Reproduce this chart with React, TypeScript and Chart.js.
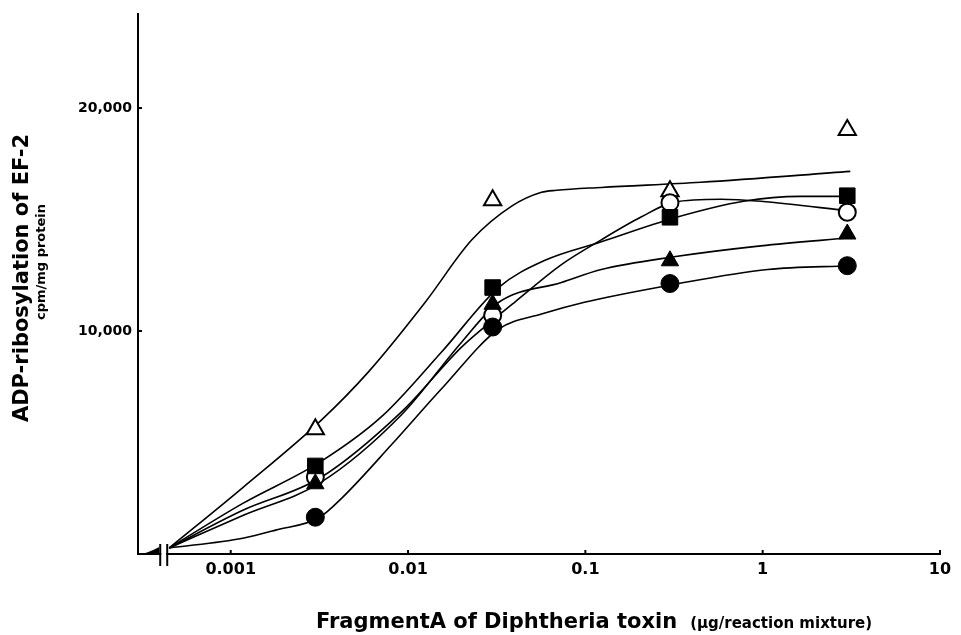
import React, { useEffect, useRef } from "react";
import { Chart, registerables } from "chart.js";

Chart.register(...registerables);

// ---- measured points (dose in µg/reaction mixture, activity in cpm/mg protein)
const DOSES = [0.003, 0.03, 0.3, 3];
const OPEN_TRIANGLE = [5600, 15870, 16270, 19020];
const FILLED_SQUARE = [3950, 11950, 15100, 16070];
const OPEN_CIRCLE = [3450, 10700, 15750, 15330];
const FILLED_TRIANGLE = [3150, 11200, 13150, 14350];
const FILLED_CIRCLE = [1650, 10180, 12130, 12930];

// ---- hand-drawn fitted curves (first point = zero dose, drawn after the axis break)
const ZERO_DOSE = 0.00045;
const CURVE_OPEN_TRIANGLE_X = [ZERO_DOSE, 0.00117, 0.0032, 0.006, 0.0125, 0.0229, 0.0384, 0.0566, 0.0687, 0.123, 0.448, 3.12];
const CURVE_OPEN_TRIANGLE_Y = [270, 2980, 5960, 8180, 11290, 14090, 15600, 16220, 16310, 16440, 16670, 17160];
const CURVE_FILLED_SQUARE_X = [ZERO_DOSE, 0.00117, 0.0032, 0.00714, 0.0155, 0.0325, 0.0588, 0.123, 0.316, 0.78, 1.63, 3.12];
const CURVE_FILLED_SQUARE_Y = [270, 2270, 4130, 6180, 9070, 11960, 13160, 14000, 15070, 15820, 16040, 16040];
const CURVE_OPEN_CIRCLE_X = [ZERO_DOSE, 0.00117, 0.0032, 0.00925, 0.0201, 0.0325, 0.0399, 0.0733, 0.123, 0.206, 0.316, 0.58, 0.975, 3.12];
const CURVE_OPEN_CIRCLE_Y = [270, 1960, 3420, 6400, 9290, 10710, 11290, 12980, 14090, 15110, 15780, 15910, 15820, 15380];
const CURVE_FILLED_TRIANGLE_X = [ZERO_DOSE, 0.00117, 0.0032, 0.00925, 0.0201, 0.0325, 0.0733, 0.123, 0.316, 0.975, 3.12];
const CURVE_FILLED_TRIANGLE_Y = [270, 1730, 3200, 6270, 9510, 11290, 12180, 12760, 13330, 13820, 14180];
const CURVE_FILLED_CIRCLE_X = [ZERO_DOSE, 0.00117, 0.00179, 0.00316, 0.00426, 0.00813, 0.0155, 0.0325, 0.0566, 0.0988, 0.316, 1.067, 3.12];
const CURVE_FILLED_CIRCLE_Y = [270, 710, 1070, 1640, 2530, 4930, 7420, 10090, 10760, 11290, 12090, 12760, 12930];

// ---- axes
const X_TICKS = [0.001, 0.01, 0.1, 1, 10];
const X_TICK_LABELS = ["0.001", "0.01", "0.1", "1", "10"];
const Y_TICKS = [10000, 20000];
const Y_TICK_LABELS = ["10,000", "20,000"];
const X_MIN = 0.000312;
const X_MAX = 10;
const Y_MAX = 24200;

const Y_TITLE = "ADP-ribosylation of EF-2";
const Y_SUBTITLE = "cpm/mg protein";
const X_TITLE = "FragmentA of Diphtheria toxin";
const X_SUBTITLE = "(µg/reaction mixture)";

const FONT = "'DejaVu Sans', 'Liberation Sans', Arial, sans-serif";

const pts = (xs: number[], ys: number[]) => xs.map((x, i) => ({ x, y: ys[i] }));

const markerSet = (data: number[], style: string, radius: number, open: boolean) => ({
  type: "line" as const,
  data: pts(DOSES, data),
  showLine: false,
  pointStyle: style,
  pointRadius: radius,
  pointHoverRadius: radius,
  pointBackgroundColor: open ? "#ffffff" : "#000000",
  pointBorderColor: "#000000",
  pointBorderWidth: open ? 2 : 1,
  order: 0,
});

const curveSet = (xs: number[], ys: number[]) => ({
  type: "line" as const,
  data: pts(xs, ys),
  borderColor: "#000000",
  borderWidth: 1.6,
  pointRadius: 0,
  fill: false,
  cubicInterpolationMode: "monotone" as const,
  order: 1,
});

const decorPlugin = {
  id: "decor",
  afterDraw(chart: any) {
    const { ctx, chartArea, scales } = chart;
    const xs = scales.x;
    const ys = scales.y;
    const left = chartArea.left;
    const bottom = chartArea.bottom;
    ctx.save();
    ctx.strokeStyle = "#000";
    ctx.fillStyle = "#000";
    ctx.lineWidth = 2;

    // inward tick marks
    Y_TICKS.forEach((v) => {
      const y = ys.getPixelForValue(v);
      ctx.beginPath();
      ctx.moveTo(left, y);
      ctx.lineTo(left + 4, y);
      ctx.stroke();
    });
    X_TICKS.forEach((v) => {
      const x = xs.getPixelForValue(v);
      ctx.beginPath();
      ctx.moveTo(x, bottom);
      ctx.lineTo(x, bottom - 4);
      ctx.stroke();
    });

    // axis break before the zero-dose position
    const zx = xs.getPixelForValue(ZERO_DOSE);
    const b1 = zx - 9;
    const b2 = zx - 2;
    ctx.fillStyle = "#fff";
    ctx.fillRect(b1 + 1, bottom - 2, b2 - b1 - 2, 4);
    ctx.fillStyle = "#000";
    ctx.lineWidth = 2;
    [b1, b2].forEach((bx) => {
      ctx.beginPath();
      ctx.moveTo(bx, bottom - 10);
      ctx.lineTo(bx, bottom + 12);
      ctx.stroke();
    });
    // small wedge between axis origin and the break
    ctx.beginPath();
    ctx.moveTo(left, bottom + 1);
    ctx.quadraticCurveTo(left + 10, bottom - 1, b1 - 1, bottom - 7);
    ctx.lineTo(b1 - 1, bottom + 1);
    ctx.closePath();
    ctx.fill();

    // y title (two lines, rotated)
    ctx.fillStyle = "#000";
    ctx.textAlign = "center";
    ctx.textBaseline = "middle";
    ctx.save();
    ctx.translate(23, 278);
    ctx.rotate(-Math.PI / 2);
    ctx.font = `bold 21px ${FONT}`;
    ctx.fillText(Y_TITLE, 0, 0);
    ctx.restore();
    ctx.save();
    ctx.translate(42, 262);
    ctx.rotate(-Math.PI / 2);
    ctx.font = `bold 13px ${FONT}`;
    ctx.fillText(Y_SUBTITLE, 0, 0);
    ctx.restore();

    // x title (large + small parts)
    ctx.textAlign = "left";
    ctx.textBaseline = "alphabetic";
    ctx.font = `bold 21px ${FONT}`;
    const w1 = ctx.measureText(X_TITLE).width;
    const startX = 316;
    const baseY = 628;
    ctx.fillText(X_TITLE, startX, baseY);
    ctx.font = `bold 15px ${FONT}`;
    ctx.fillText(X_SUBTITLE, startX + w1 + 13, baseY);

    ctx.restore();
  },
};

export default function App() {
  const ref = useRef<HTMLCanvasElement>(null);

  useEffect(() => {
    if (!ref.current) return;
    const chart = new Chart(ref.current, {
      type: "line",
      data: {
        datasets: [
          markerSet(FILLED_SQUARE, "rect", 11, false),
          markerSet(FILLED_TRIANGLE, "triangle", 10, false),
          markerSet(FILLED_CIRCLE, "circle", 9, false),
          markerSet(OPEN_CIRCLE, "circle", 8.5, true),
          markerSet(OPEN_TRIANGLE, "triangle", 10, true),
          curveSet(CURVE_OPEN_TRIANGLE_X, CURVE_OPEN_TRIANGLE_Y),
          curveSet(CURVE_FILLED_SQUARE_X, CURVE_FILLED_SQUARE_Y),
          curveSet(CURVE_OPEN_CIRCLE_X, CURVE_OPEN_CIRCLE_Y),
          curveSet(CURVE_FILLED_TRIANGLE_X, CURVE_FILLED_TRIANGLE_Y),
          curveSet(CURVE_FILLED_CIRCLE_X, CURVE_FILLED_CIRCLE_Y),
        ] as any,
      },
      options: {
        responsive: false,
        animation: false,
        devicePixelRatio: 1,
        parsing: false as any,
        layout: { padding: { top: 10, right: 21, left: 0, bottom: 0 } },
        plugins: {
          legend: { display: false },
          tooltip: { enabled: false },
          title: { display: false },
        },
        scales: {
          x: {
            type: "logarithmic",
            min: X_MIN,
            max: X_MAX,
            afterBuildTicks: (s: any) => {
              s.ticks = X_TICKS.map((v) => ({ value: v }));
            },
            afterFit: (s: any) => {
              s.height = 81;
            },
            grid: { display: true, drawOnChartArea: false, drawTicks: false },
            border: { display: true, color: "#000", width: 2 },
            ticks: {
              autoSkip: false,
              maxRotation: 0,
              padding: 6,
              color: "#000",
              font: { family: FONT, weight: "bold", size: 16 },
              callback: (v: any) => {
                const i = X_TICKS.findIndex((t) => Math.abs(t - Number(v)) / t < 1e-6);
                return i >= 0 ? X_TICK_LABELS[i] : "";
              },
            },
          },
          y: {
            type: "linear",
            min: 0,
            max: Y_MAX,
            afterBuildTicks: (s: any) => {
              s.ticks = Y_TICKS.map((v) => ({ value: v }));
            },
            afterFit: (s: any) => {
              s.width = 138;
            },
            grid: { display: true, drawOnChartArea: false, drawTicks: false },
            border: { display: true, color: "#000", width: 2 },
            ticks: {
              padding: 6,
              color: "#000",
              font: { family: FONT, weight: "bold", size: 14 },
              callback: (v: any) => {
                const i = Y_TICKS.indexOf(Number(v));
                return i >= 0 ? Y_TICK_LABELS[i] : "";
              },
            },
          },
        },
      } as any,
      plugins: [decorPlugin],
    });
    return () => chart.destroy();
  }, []);

  return (
    <div style={{ position: "absolute", left: 0, top: 0, width: 961, height: 635, background: "#fff" }}>
      <canvas ref={ref} width={961} height={635} style={{ display: "block" }} />
    </div>
  );
}
